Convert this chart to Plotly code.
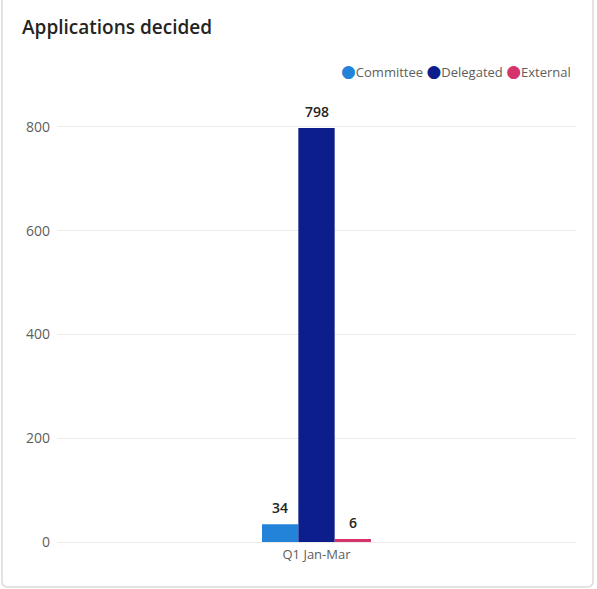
import plotly.graph_objects as go

categories = ["Q1 Jan-Mar"]
series_names = ["Committee", "Delegated", "External"]
committee = [34]
delegated = [798]
external = [6]
series_values = [committee, delegated, external]
colors = ["#2383D9", "#0C1E8C", "#D6336C"]
y_ticks = [0, 200, 400, 600, 800]

W, H = 597, 589
ml, mr, mt, mb = 57, 21, 101, 47
pw, ph = W - ml - mr, H - mt - mb
FONT = "Open Sans"
BARGAP = 0.79


def px_x(p):
    return (p - ml) / pw


def px_y(p):
    return (H - mb - p) / ph


fig = go.Figure()
n_series = len(series_names)
bar_w = (1 - BARGAP) / n_series
for i, (name, vals, col) in enumerate(zip(series_names, series_values, colors)):
    fig.add_trace(go.Bar(
        x=categories, y=vals, name=name, marker_color=col,
        marker_line_width=0, showlegend=False,
    ))
    # data labels above each bar
    offset = (i - (n_series - 1) / 2) * bar_w
    for ci, v in enumerate(vals):
        fig.add_annotation(
            x=ci + offset, y=v, xref="x", yref="y", text=str(v), showarrow=False,
            xanchor="center", yanchor="bottom", yshift=5,
            font=dict(family=FONT, size=14, color="#252423", weight=600),
        )

# legend drawn as a single text line with coloured dots
legend_text = "&nbsp;".join(
    f"<span style='color:{c};font-size:17px;font-family:DejaVu Sans'>●</span>{n}"
    for n, c in zip(series_names, colors)
)
fig.add_annotation(
    xref="paper", yref="paper", x=px_x(573), y=px_y(71), xanchor="right", yanchor="middle",
    text=legend_text, showarrow=False,
    font=dict(family=FONT, size=13, color="#605E5C"),
)

# card border with rounded bottom corners
r = 6
L, R, T, B = 2, 593, 0, 587
path = (
    f"M {px_x(L)},{px_y(T)} L {px_x(L)},{px_y(B - r)} "
    f"Q {px_x(L)},{px_y(B)} {px_x(L + r)},{px_y(B)} "
    f"L {px_x(R - r)},{px_y(B)} Q {px_x(R)},{px_y(B)} {px_x(R)},{px_y(B - r)} "
    f"L {px_x(R)},{px_y(T)}"
)
fig.add_shape(type="path", xref="paper", yref="paper", path=path,
              line=dict(color="#DCDAD8", width=1.5), layer="below")

fig.update_layout(
    width=W, height=H,
    margin=dict(l=ml, r=mr, t=mt, b=mb),
    paper_bgcolor="white", plot_bgcolor="white",
    title=dict(text="Applications decided", x=22 / W, xanchor="left",
               y=1 - 27 / H, yanchor="middle",
               font=dict(family=FONT, size=19, color="#252423", weight=600)),
    barmode="group", bargap=BARGAP, bargroupgap=0,
    showlegend=False,
    yaxis=dict(range=[0, 850], tickvals=y_ticks, showgrid=True, gridcolor="#EDEBE9",
               zeroline=False, showline=False, ticks="", ticklabelstandoff=6,
               tickfont=dict(family=FONT, size=14, color="#605E5C")),
    xaxis=dict(showgrid=False, showline=True, linecolor="#EDEBE9", ticks="",
               tickfont=dict(family=FONT, size=13, color="#605E5C")),
    font=dict(family=FONT),
)
fig.write_html("out.html", config={"displayModeBar": False},
               post_script="document.body.style.margin='0';document.body.style.overflow='hidden';")
